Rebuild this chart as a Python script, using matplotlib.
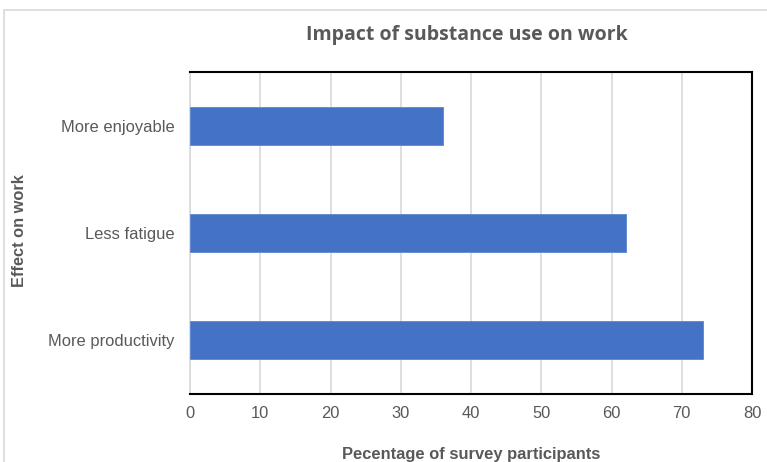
import matplotlib
matplotlib.use("Agg")
import matplotlib.pyplot as plt
from matplotlib.patches import Rectangle

# Survey results
effects = ["More productivity", "Less fatigue", "More enjoyable"]
percentages = [73, 62, 36]
x_ticks = [0, 10, 20, 30, 40, 50, 60, 70, 80]

W, H = 767, 462
fig = plt.figure(figsize=(W / 100, H / 100), dpi=100)
fig.patch.set_facecolor("white")

# Light chart-area border, running off the right and bottom edges
fig.patches.append(Rectangle((4 / W, -0.1), 1.2, (H - 10) / H + 0.1,
                             transform=fig.transFigure, fill=False,
                             edgecolor="#d9d9d9", linewidth=1.2))

ax = fig.add_axes([190 / W, 1 - 394 / H, (752 - 190) / W, (394 - 72) / H])
ax.barh(range(len(effects)), percentages, height=0.355, color="#4472C4",
        edgecolor="#5b86d0", linewidth=0.6, zorder=3)

ax.set_xlim(0, 80)
ax.set_ylim(-0.5, len(effects) - 0.5)
ax.set_xticks(x_ticks)
ax.set_yticks(range(len(effects)))
ax.set_yticklabels(effects)
ax.grid(axis="x", color="#d9d9d9", linewidth=1.2, zorder=0)
ax.tick_params(length=0, labelsize=11.9, labelcolor="#595959", pad=11)
ax.tick_params(axis="x", pad=9)
for lbl in ax.get_xticklabels() + ax.get_yticklabels():
    lbl.set_family("Liberation Sans")

for side in ["top", "right", "bottom"]:
    ax.spines[side].set_color("black")
    ax.spines[side].set_linewidth(1.5)
ax.spines["left"].set_color("#d9d9d9")
ax.spines["left"].set_linewidth(1.2)

fig.text(467 / W, 1 - 35 / H, "Impact of substance use on work",
         ha="center", va="center", fontsize=14, fontweight="bold",
         color="#595959", family="Open Sans")
fig.text(471 / W, 1 - 454 / H, "Pecentage of survey participants",
         ha="center", va="center", fontsize=11.9, fontweight="bold",
         color="#595959", family="Liberation Sans")
fig.text(20 / W, 1 - 231 / H, "Effect on work", rotation=90,
         ha="center", va="center", fontsize=11.8, fontweight="bold",
         color="#595959", family="Liberation Sans")

fig.savefig("out.png", dpi=100)
